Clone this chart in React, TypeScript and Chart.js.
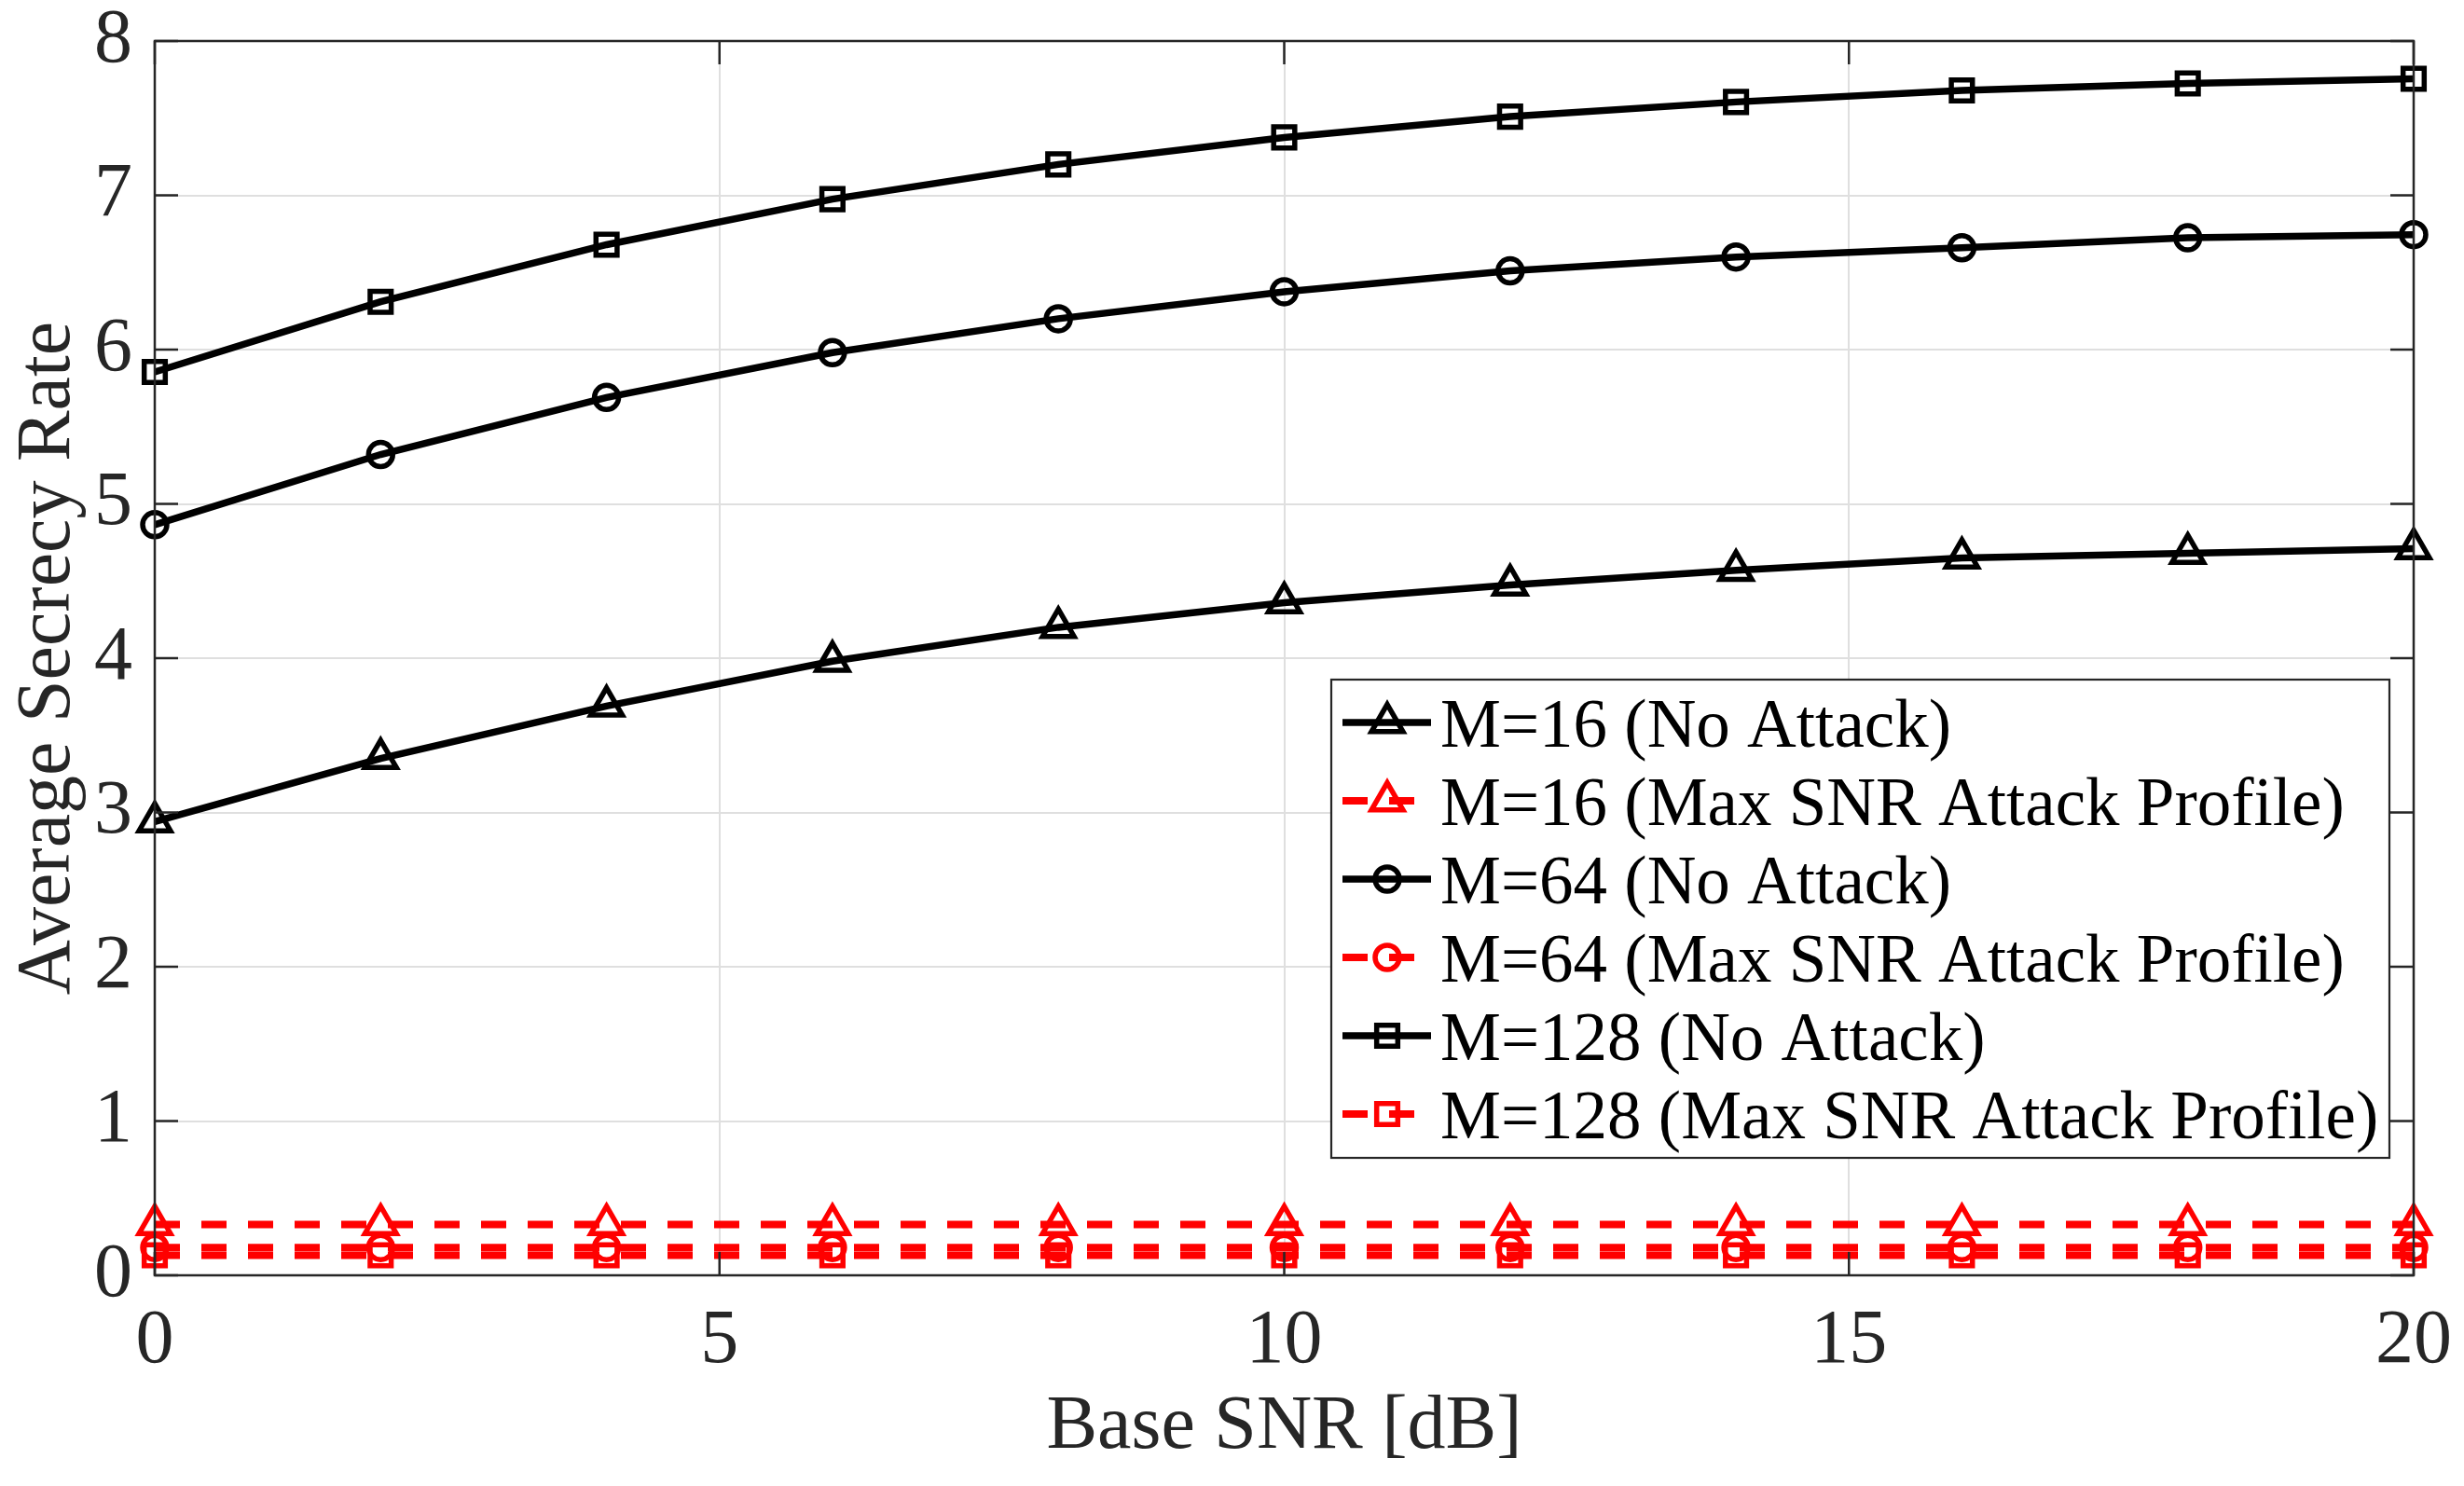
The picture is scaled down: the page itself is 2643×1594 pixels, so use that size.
import { useEffect, useRef } from "react";
import { Chart, registerables } from "chart.js";
import { drawPoint } from "chart.js/helpers";

Chart.register(...registerables);

const snrDb = [0, 2, 4, 6, 8, 10, 12, 14, 16, 18, 20];
const m16NoAttack = [2.94, 3.35, 3.69, 3.98, 4.2, 4.36, 4.475, 4.57, 4.65, 4.68, 4.71];
const m16MaxSnr = [0.33, 0.33, 0.33, 0.33, 0.33, 0.33, 0.33, 0.33, 0.33, 0.33, 0.33];
const m64NoAttack = [4.865, 5.32, 5.69, 5.98, 6.2, 6.375, 6.51, 6.6, 6.66, 6.725, 6.745];
const m64MaxSnr = [0.18, 0.18, 0.18, 0.18, 0.18, 0.18, 0.18, 0.18, 0.18, 0.18, 0.18];
const m128NoAttack = [5.855, 6.31, 6.68, 6.975, 7.2, 7.375, 7.51, 7.605, 7.68, 7.725, 7.755];
const m128MaxSnr = [0.13, 0.13, 0.13, 0.13, 0.13, 0.13, 0.13, 0.13, 0.13, 0.13, 0.13];

const labels = [
  "M=16 (No Attack)",
  "M=16 (Max SNR Attack Profile)",
  "M=64 (No Attack)",
  "M=64 (Max SNR Attack Profile)",
  "M=128 (No Attack)",
  "M=128 (Max SNR Attack Profile)",
];

const SERIF = "'Liberation Serif', 'Times New Roman', serif";
const AXIS = "#262626";
const GRID = "#dfdfdf";
const DASH = [27, 23];

const MARKERS: Record<string, number> = { triangle: 19.5, circle: 13, rect: 16 };

function series(label: string, values: number[], red: boolean, style: string) {
  return {
    label,
    data: snrDb.map((x, i) => ({ x, y: values[i] })),
    borderColor: red ? "#ff0000" : "#000000",
    borderWidth: red ? 8 : 7.5,
    borderDash: red ? DASH : [],
    pointStyle: style,
    pointRadius: MARKERS[style],
    pointBorderWidth: 5.5,
    pointBorderColor: red ? "#ff0000" : "#000000",
    pointBackgroundColor: "rgba(0,0,0,0)",
    tension: 0,
    clip: false as const,
  };
}

// box, inward ticks and the legend inside the axes, drawn MATLAB style
const frame = {
  id: "frame",
  afterDatasetsDraw(chart: any) {
    const { ctx, chartArea: a, scales } = chart;
    ctx.save();
    ctx.strokeStyle = AXIS;
    ctx.lineWidth = 2.5;
    ctx.setLineDash([]);
    ctx.strokeRect(a.left, a.top, a.right - a.left, a.bottom - a.top);
    const tl = 25;
    ctx.beginPath();
    scales.x.ticks.forEach((t: any) => {
      const px = scales.x.getPixelForValue(t.value);
      ctx.moveTo(px, a.bottom);
      ctx.lineTo(px, a.bottom - tl);
      ctx.moveTo(px, a.top);
      ctx.lineTo(px, a.top + tl);
    });
    scales.y.ticks.forEach((t: any) => {
      const py = scales.y.getPixelForValue(t.value);
      ctx.moveTo(a.left, py);
      ctx.lineTo(a.left + tl, py);
      ctx.moveTo(a.right, py);
      ctx.lineTo(a.right - tl, py);
    });
    ctx.stroke();
    ctx.restore();
  },
  afterDraw(chart: any) {
    const { ctx } = chart;
    const box = { x: 1428, y: 729, w: 1135, h: 513 };
    ctx.save();
    ctx.fillStyle = "#ffffff";
    ctx.fillRect(box.x, box.y, box.w, box.h);
    ctx.strokeStyle = AXIS;
    ctx.lineWidth = 2.2;
    ctx.strokeRect(box.x, box.y, box.w, box.h);
    ctx.font = `73px ${SERIF}`;
    ctx.textBaseline = "alphabetic";
    ctx.textAlign = "left";
    chart.data.datasets.forEach((ds: any, i: number) => {
      const y = 775 + i * 84;
      ctx.save();
      ctx.strokeStyle = ds.borderColor;
      ctx.lineWidth = ds.borderWidth;
      ctx.setLineDash(ds.borderDash);
      ctx.beginPath();
      ctx.moveTo(1440, y);
      ctx.lineTo(1535, y);
      ctx.stroke();
      ctx.setLineDash([]);
      ctx.strokeStyle = ds.pointBorderColor;
      ctx.fillStyle = "rgba(0,0,0,0)";
      ctx.lineWidth = ds.pointBorderWidth;
      drawPoint(ctx, { pointStyle: ds.pointStyle, radius: ds.pointRadius, borderWidth: ds.pointBorderWidth, rotation: 0 } as any, 1488, y);
      ctx.restore();
      ctx.fillStyle = "#000000";
      ctx.fillText(ds.label, 1545, y + 26);
    });
    ctx.restore();
  },
};

export default function App() {
  const ref = useRef<HTMLCanvasElement>(null);

  useEffect(() => {
    document.body.style.margin = "0";
    if (!ref.current) return;
    const chart = new Chart(ref.current, {
      type: "line",
      data: {
        datasets: [
          series(labels[0], m16NoAttack, false, "triangle"),
          series(labels[1], m16MaxSnr, true, "triangle"),
          series(labels[2], m64NoAttack, false, "circle"),
          series(labels[3], m64MaxSnr, true, "circle"),
          series(labels[4], m128NoAttack, false, "rect"),
          series(labels[5], m128MaxSnr, true, "rect"),
        ] as any,
      },
      options: {
        animation: false,
        responsive: true,
        maintainAspectRatio: false,
        layout: { padding: { left: 0, top: 44, right: 54, bottom: 0 } },
        plugins: { legend: { display: false }, tooltip: { enabled: false } },
        scales: {
          x: {
            type: "linear",
            min: 0,
            max: 20,
            afterFit: (s: any) => {
              s.height = 226;
              s.paddingLeft = 0;
              s.paddingRight = 0;
            },
            ticks: {
              stepSize: 5,
              autoSkip: false,
              maxRotation: 0,
              padding: 22,
              color: AXIS,
              font: { family: SERIF, size: 82 },
            },
            grid: { color: GRID, lineWidth: 2, drawTicks: false },
            border: { display: false },
            title: {
              display: true,
              text: "Base SNR [dB]",
              color: AXIS,
              font: { family: SERIF, size: 82 },
              padding: { top: 0, bottom: 13 },
            },
          },
          y: {
            type: "linear",
            min: 0,
            max: 8,
            afterFit: (s: any) => {
              s.width = 166;
              s.paddingTop = 0;
              s.paddingBottom = 0;
            },
            ticks: {
              stepSize: 1,
              autoSkip: false,
              padding: 24,
              color: AXIS,
              font: { family: SERIF, size: 82 },
            },
            grid: { color: GRID, lineWidth: 2, drawTicks: false },
            border: { display: false },
            title: {
              display: true,
              text: "Average Secrecy Rate",
              color: AXIS,
              font: { family: SERIF, size: 82 },
              padding: { top: 3, bottom: 0 },
            },
          },
        },
      },
      plugins: [frame],
    });
    return () => chart.destroy();
  }, []);

  return (
    <div style={{ position: "fixed", left: 0, top: 0, width: 2643, height: 1594, background: "#ffffff" }}>
      <canvas ref={ref} />
    </div>
  );
}
